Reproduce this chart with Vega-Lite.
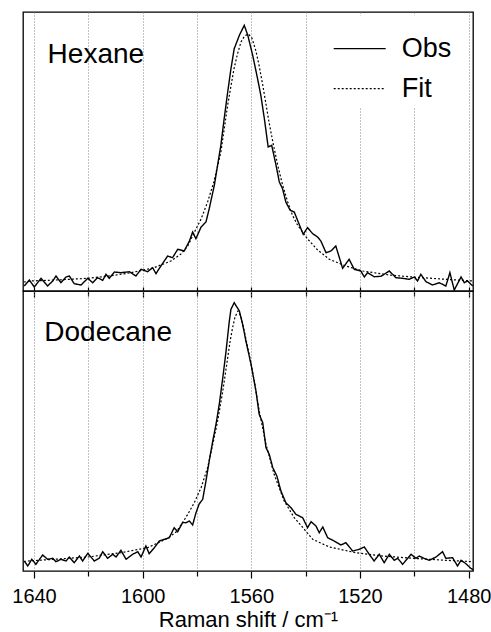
{
  "$schema": "https://vega.github.io/schema/vega-lite/v6.json",
  "padding": {"left": 11, "top": 11, "right": 0, "bottom": 0},
  "bounds": "flush",
  "spacing": 0,
  "datasets": {
    "hexObs": [
      {"shift": 1643.6, "intensity": 5}, {"shift": 1641.7, "intensity": 11}, {"shift": 1639.9, "intensity": 4}, {"shift": 1637.4, "intensity": 12.7},
      {"shift": 1635.0, "intensity": 5}, {"shift": 1633.1, "intensity": 10}, {"shift": 1631.9, "intensity": 15}, {"shift": 1630.1, "intensity": 8.3},
      {"shift": 1628.2, "intensity": 14}, {"shift": 1627.0, "intensity": 15}, {"shift": 1625.2, "intensity": 7.3}, {"shift": 1622.7, "intensity": 6},
      {"shift": 1620.2, "intensity": 12.7}, {"shift": 1618.4, "intensity": 8.3}, {"shift": 1616.6, "intensity": 13.3}, {"shift": 1614.7, "intensity": 10.7},
      {"shift": 1613.5, "intensity": 16.7}, {"shift": 1612.3, "intensity": 12.7}, {"shift": 1610.4, "intensity": 19}, {"shift": 1608.0, "intensity": 18.3},
      {"shift": 1604.9, "intensity": 19.3}, {"shift": 1602.5, "intensity": 15}, {"shift": 1600.6, "intensity": 21.7}, {"shift": 1598.2, "intensity": 19.3},
      {"shift": 1596.3, "intensity": 23.3}, {"shift": 1595.1, "intensity": 17.3}, {"shift": 1593.3, "intensity": 25}, {"shift": 1590.8, "intensity": 35},
      {"shift": 1589.0, "intensity": 33.3}, {"shift": 1587.1, "intensity": 41.7}, {"shift": 1584.7, "intensity": 40}, {"shift": 1582.8, "intensity": 50},
      {"shift": 1581.6, "intensity": 59}, {"shift": 1580.4, "intensity": 52.3}, {"shift": 1578.5, "intensity": 64}, {"shift": 1576.7, "intensity": 69},
      {"shift": 1575.5, "intensity": 82.3}, {"shift": 1573.6, "intensity": 106}, {"shift": 1572.4, "intensity": 126}, {"shift": 1571.2, "intensity": 146},
      {"shift": 1570.0, "intensity": 172.3}, {"shift": 1568.7, "intensity": 199}, {"shift": 1567.5, "intensity": 222.3}, {"shift": 1566.3, "intensity": 242.3},
      {"shift": 1564.4, "intensity": 255.7}, {"shift": 1562.6, "intensity": 265.7}, {"shift": 1561.3, "intensity": 255.7}, {"shift": 1559.5, "intensity": 235.7},
      {"shift": 1557.7, "intensity": 212.3}, {"shift": 1556.5, "intensity": 195.7}, {"shift": 1555.2, "intensity": 172.3}, {"shift": 1553.8, "intensity": 144},
      {"shift": 1552.5, "intensity": 145.7}, {"shift": 1550.9, "intensity": 125.7}, {"shift": 1549.7, "intensity": 109}, {"shift": 1548.5, "intensity": 102.3},
      {"shift": 1547.3, "intensity": 89}, {"shift": 1545.7, "intensity": 80.7}, {"shift": 1544.2, "intensity": 79}, {"shift": 1542.4, "intensity": 66.7},
      {"shift": 1540.9, "intensity": 56.7}, {"shift": 1539.3, "intensity": 63.3}, {"shift": 1537.4, "intensity": 57.3}, {"shift": 1535.6, "intensity": 54},
      {"shift": 1534.4, "intensity": 50}, {"shift": 1532.5, "intensity": 38.3}, {"shift": 1530.7, "intensity": 40}, {"shift": 1528.9, "intensity": 45},
      {"shift": 1526.4, "intensity": 22.7}, {"shift": 1524.0, "intensity": 31.7}, {"shift": 1522.1, "intensity": 21.7}, {"shift": 1519.7, "intensity": 20},
      {"shift": 1518.4, "intensity": 14}, {"shift": 1517.2, "intensity": 18.3}, {"shift": 1514.8, "intensity": 14.3}, {"shift": 1512.3, "intensity": 14.7},
      {"shift": 1509.2, "intensity": 20}, {"shift": 1506.8, "intensity": 13.3}, {"shift": 1504.3, "intensity": 12.7}, {"shift": 1501.9, "intensity": 11.7},
      {"shift": 1500.0, "intensity": 14}, {"shift": 1498.8, "intensity": 10}, {"shift": 1497.6, "intensity": 16.7}, {"shift": 1495.7, "intensity": 9.3},
      {"shift": 1493.3, "intensity": 6}, {"shift": 1490.8, "intensity": 8.3}, {"shift": 1488.4, "intensity": 5}, {"shift": 1486.9, "intensity": 18.3},
      {"shift": 1485.3, "intensity": 1}, {"shift": 1482.8, "intensity": 14}, {"shift": 1481.6, "intensity": 8.3}, {"shift": 1480.4, "intensity": 10},
      {"shift": 1478.5, "intensity": 5}
    ],
    "hexFit": [
      {"shift": 1643.7, "intensity": 9}, {"shift": 1641.1, "intensity": 10}, {"shift": 1630.1, "intensity": 11.2}, {"shift": 1620.2, "intensity": 12.7},
      {"shift": 1611.7, "intensity": 15.2}, {"shift": 1604.3, "intensity": 18.3}, {"shift": 1595.8, "intensity": 23.3}, {"shift": 1589.6, "intensity": 30},
      {"shift": 1585.9, "intensity": 37}, {"shift": 1583.4, "intensity": 45}, {"shift": 1581.1, "intensity": 58}, {"shift": 1578.5, "intensity": 72},
      {"shift": 1576.1, "intensity": 89}, {"shift": 1573.8, "intensity": 109}, {"shift": 1571.2, "intensity": 139}, {"shift": 1568.7, "intensity": 186},
      {"shift": 1567.5, "intensity": 205}, {"shift": 1566.4, "intensity": 222}, {"shift": 1565.1, "intensity": 237}, {"shift": 1563.8, "intensity": 249},
      {"shift": 1562.5, "intensity": 255}, {"shift": 1561.1, "intensity": 257}, {"shift": 1559.8, "intensity": 253}, {"shift": 1558.3, "intensity": 240},
      {"shift": 1557.1, "intensity": 225}, {"shift": 1555.8, "intensity": 206}, {"shift": 1553.5, "intensity": 169}, {"shift": 1552.0, "intensity": 148},
      {"shift": 1550.3, "intensity": 126}, {"shift": 1548.5, "intensity": 106}, {"shift": 1546.6, "intensity": 89}, {"shift": 1544.9, "intensity": 76},
      {"shift": 1543.0, "intensity": 66}, {"shift": 1539.3, "intensity": 52}, {"shift": 1535.6, "intensity": 41}, {"shift": 1531.3, "intensity": 31.7},
      {"shift": 1525.2, "intensity": 25}, {"shift": 1519.0, "intensity": 20}, {"shift": 1509.2, "intensity": 16}, {"shift": 1500.6, "intensity": 14},
      {"shift": 1488.4, "intensity": 11.7}, {"shift": 1478.5, "intensity": 10}
    ],
    "dodObs": [
      {"shift": 1643.6, "intensity": 10}, {"shift": 1642.3, "intensity": 5}, {"shift": 1640.8, "intensity": 11.7}, {"shift": 1639.3, "intensity": 6.7},
      {"shift": 1636.8, "intensity": 16}, {"shift": 1635.0, "intensity": 11.7}, {"shift": 1633.1, "intensity": 12.7}, {"shift": 1631.9, "intensity": 9.3},
      {"shift": 1630.1, "intensity": 11.7}, {"shift": 1628.2, "intensity": 10}, {"shift": 1627.0, "intensity": 14}, {"shift": 1625.2, "intensity": 8.3},
      {"shift": 1623.3, "intensity": 15}, {"shift": 1622.1, "intensity": 10}, {"shift": 1620.2, "intensity": 17.7}, {"shift": 1617.8, "intensity": 10},
      {"shift": 1616.0, "intensity": 12.7}, {"shift": 1614.7, "intensity": 19.3}, {"shift": 1612.9, "intensity": 12.7}, {"shift": 1611.0, "intensity": 16.7},
      {"shift": 1609.8, "intensity": 14}, {"shift": 1608.0, "intensity": 20.7}, {"shift": 1606.1, "intensity": 11.7}, {"shift": 1603.7, "intensity": 16.7},
      {"shift": 1601.8, "intensity": 19.3}, {"shift": 1600.6, "intensity": 14}, {"shift": 1598.8, "intensity": 25}, {"shift": 1597.6, "intensity": 17.3},
      {"shift": 1595.7, "intensity": 23.3}, {"shift": 1593.9, "intensity": 30}, {"shift": 1592.0, "intensity": 31.7}, {"shift": 1590.2, "intensity": 33.3},
      {"shift": 1588.4, "intensity": 43.3}, {"shift": 1587.1, "intensity": 39.3}, {"shift": 1585.3, "intensity": 48.5}, {"shift": 1584.1, "intensity": 48.3},
      {"shift": 1582.8, "intensity": 50}, {"shift": 1581.6, "intensity": 46}, {"shift": 1580.4, "intensity": 58}, {"shift": 1579.2, "intensity": 67},
      {"shift": 1577.9, "intensity": 71.7}, {"shift": 1576.7, "intensity": 90}, {"shift": 1575.5, "intensity": 110}, {"shift": 1574.2, "intensity": 130},
      {"shift": 1573.0, "intensity": 146.7}, {"shift": 1571.8, "intensity": 166.7}, {"shift": 1570.5, "intensity": 193.3}, {"shift": 1569.3, "intensity": 220},
      {"shift": 1568.1, "intensity": 250}, {"shift": 1567.5, "intensity": 261.7}, {"shift": 1566.3, "intensity": 268.3}, {"shift": 1564.4, "intensity": 260},
      {"shift": 1563.2, "intensity": 246.7}, {"shift": 1562.0, "intensity": 230}, {"shift": 1560.1, "intensity": 206.7}, {"shift": 1558.3, "intensity": 180},
      {"shift": 1557.1, "intensity": 156.7}, {"shift": 1555.8, "intensity": 148.3}, {"shift": 1554.6, "intensity": 123.3}, {"shift": 1553.4, "intensity": 116.7},
      {"shift": 1552.1, "intensity": 103.3}, {"shift": 1550.6, "intensity": 95}, {"shift": 1549.1, "intensity": 80}, {"shift": 1547.3, "intensity": 68.3},
      {"shift": 1545.4, "intensity": 63.3}, {"shift": 1543.6, "intensity": 56.7}, {"shift": 1541.1, "intensity": 53.3}, {"shift": 1539.3, "intensity": 43.3},
      {"shift": 1538.0, "intensity": 49.3}, {"shift": 1536.2, "intensity": 45}, {"shift": 1535.0, "intensity": 38.3}, {"shift": 1533.7, "intensity": 44},
      {"shift": 1531.9, "intensity": 33.3}, {"shift": 1529.5, "intensity": 30}, {"shift": 1527.0, "intensity": 26}, {"shift": 1525.2, "intensity": 28.3},
      {"shift": 1522.7, "intensity": 20}, {"shift": 1520.3, "intensity": 21.7}, {"shift": 1518.4, "intensity": 24}, {"shift": 1516.6, "intensity": 16.7},
      {"shift": 1514.8, "intensity": 10}, {"shift": 1512.9, "intensity": 16.7}, {"shift": 1511.1, "intensity": 8.3}, {"shift": 1509.2, "intensity": 16.7},
      {"shift": 1507.4, "intensity": 10.7}, {"shift": 1506.1, "intensity": 12.7}, {"shift": 1504.3, "intensity": 6.7}, {"shift": 1501.2, "intensity": 16.7},
      {"shift": 1499.4, "intensity": 12.7}, {"shift": 1498.2, "intensity": 15}, {"shift": 1496.4, "intensity": 12.7}, {"shift": 1494.5, "intensity": 10.7},
      {"shift": 1492.0, "intensity": 14}, {"shift": 1489.6, "intensity": 19.3}, {"shift": 1488.4, "intensity": 12.7}, {"shift": 1485.9, "intensity": 13.3},
      {"shift": 1484.1, "intensity": 5}, {"shift": 1482.8, "intensity": 10.7}, {"shift": 1481.0, "intensity": 7.3}, {"shift": 1479.2, "intensity": 2.7},
      {"shift": 1478.0, "intensity": 0.7}
    ],
    "dodFit": [
      {"shift": 1643.7, "intensity": 9.5}, {"shift": 1642.3, "intensity": 10}, {"shift": 1632.5, "intensity": 11.7}, {"shift": 1620.2, "intensity": 14},
      {"shift": 1608.0, "intensity": 18.3}, {"shift": 1598.2, "intensity": 23.3}, {"shift": 1590.8, "intensity": 32.7}, {"shift": 1587.7, "intensity": 39},
      {"shift": 1585.3, "intensity": 48.3}, {"shift": 1583.4, "intensity": 56.7}, {"shift": 1581.0, "intensity": 68.3}, {"shift": 1578.5, "intensity": 83.3},
      {"shift": 1576.1, "intensity": 103.3}, {"shift": 1574.2, "intensity": 126.7}, {"shift": 1572.4, "intensity": 150}, {"shift": 1570.5, "intensity": 180},
      {"shift": 1568.7, "intensity": 213.3}, {"shift": 1567.8, "intensity": 230}, {"shift": 1566.9, "intensity": 243.3}, {"shift": 1566.0, "intensity": 254},
      {"shift": 1564.9, "intensity": 260}, {"shift": 1563.8, "intensity": 254}, {"shift": 1562.6, "intensity": 240}, {"shift": 1560.8, "intensity": 216.7},
      {"shift": 1558.9, "intensity": 190}, {"shift": 1557.1, "intensity": 160}, {"shift": 1554.6, "intensity": 126.7}, {"shift": 1551.6, "intensity": 96.7},
      {"shift": 1547.9, "intensity": 70}, {"shift": 1544.2, "intensity": 53.3}, {"shift": 1540.5, "intensity": 41.7}, {"shift": 1537.4, "intensity": 31.7},
      {"shift": 1531.3, "intensity": 24}, {"shift": 1521.5, "intensity": 18.3}, {"shift": 1511.7, "intensity": 15}, {"shift": 1500.6, "intensity": 12.7},
      {"shift": 1488.4, "intensity": 10.7}, {"shift": 1478.0, "intensity": 9.3}
    ]
  },
  "vconcat": [
    {
      "width": 450,
      "height": 279,
      "encoding": {
        "x": {
          "type": "quantitative",
          "scale": {"domain": [1478.4, 1644.05], "reverse": true, "nice": false, "zero": false},
          "axis": {
            "values": [1640, 1620, 1600, 1580, 1560, 1540, 1520, 1500, 1480],
            "labels": false, "domain": false, "title": null, "offset": -4,
            "tickSize": {"condition": {"test": "datum.value % 40 === 0", "value": 10}, "value": 9},
            "tickWidth": 1.2, "tickColor": "black",
            "grid": true, "gridDash": [1, 2], "gridColor": "#777", "gridWidth": 0.9
          }
        },
        "y": {
          "type": "quantitative",
          "scale": {"domain": [0, 279], "nice": false, "zero": false},
          "axis": null
        }
      },
      "layer": [
        {
          "data": {"name": "hexObs"},
          "mark": {"type": "line", "color": "black", "strokeWidth": 1.4, "clip": true},
          "encoding": {
            "x": {"field": "shift"},
            "y": {"field": "intensity"},
            "strokeDash": {
              "datum": "Obs", "type": "nominal",
              "scale": {"domain": ["Obs", "Fit"], "range": [[1, 0], [2, 2]]},
              "legend": {
                "orient": "none", "legendX": 303.7, "legendY": 3.6, "title": null,
                "symbolType": "stroke", "symbolSize": 2704, "symbolStrokeWidth": 1.4,
                "symbolStrokeColor": "black", "labelFontSize": 27, "labelColor": "black",
                "labelOffset": 15, "rowPadding": -20, "fillColor": "white", "padding": 6
              }
            }
          }
        },
        {
          "data": {"name": "hexFit"},
          "mark": {"type": "line", "color": "black", "strokeWidth": 1.2, "clip": true},
          "encoding": {
            "x": {"field": "shift"},
            "y": {"field": "intensity"},
            "strokeDash": {"datum": "Fit", "type": "nominal"}
          }
        },
        {
          "data": {"values": [{"name": "Hexane"}]},
          "mark": {"type": "text", "align": "left", "baseline": "alphabetic", "fontSize": 28, "color": "black"},
          "encoding": {
            "x": {"datum": 1635.0},
            "y": {"datum": 228.3},
            "text": {"field": "name"}
          }
        }
      ]
    },
    {
      "width": 450,
      "height": 280,
      "encoding": {
        "x": {
          "type": "quantitative",
          "scale": {"domain": [1478.4, 1644.05], "reverse": true, "nice": false, "zero": false},
          "axis": {
            "values": [1640, 1620, 1600, 1580, 1560, 1540, 1520, 1500, 1480],
            "labelExpr": "datum.value % 40 === 0 ? datum.label : ''",
            "format": "d",
            "domain": false,
            "tickSize": {"condition": {"test": "datum.value % 40 === 0", "value": 7}, "value": 5},
            "tickWidth": 1.2, "tickColor": "black",
            "labelFontSize": 20, "labelColor": "black", "labelPadding": 8,
            "grid": true, "gridDash": [1, 2], "gridColor": "#777", "gridWidth": 0.9,
            "title": "Raman shift / cm⁻¹", "titleFontSize": 22, "titleFontWeight": "normal",
            "titleColor": "black", "titleY": 55, "titleBaseline": "alphabetic"
          }
        },
        "y": {
          "type": "quantitative",
          "scale": {"domain": [0, 280], "nice": false, "zero": false},
          "axis": null
        }
      },
      "layer": [
        {
          "data": {"name": "dodObs"},
          "mark": {"type": "line", "color": "black", "strokeWidth": 1.4, "clip": true},
          "encoding": {
            "x": {"field": "shift"},
            "y": {"field": "intensity"},
            "strokeDash": {
              "datum": "Obs", "type": "nominal",
              "scale": {"domain": ["Obs", "Fit"], "range": [[1, 0], [2, 2]]},
              "legend": null
            }
          }
        },
        {
          "data": {"name": "dodFit"},
          "mark": {"type": "line", "color": "black", "strokeWidth": 1.2, "clip": true},
          "encoding": {
            "x": {"field": "shift"},
            "y": {"field": "intensity"},
            "strokeDash": {"datum": "Fit", "type": "nominal", "legend": null}
          }
        },
        {
          "data": {"values": [{"name": "Dodecane"}]},
          "mark": {"type": "text", "align": "left", "baseline": "alphabetic", "fontSize": 28, "color": "black"},
          "encoding": {
            "x": {"datum": 1636.2},
            "y": {"datum": 230},
            "text": {"field": "name"}
          }
        }
      ]
    }
  ],
  "resolve": {
    "scale": {"x": "independent", "y": "independent", "strokeDash": "independent"},
    "legend": {"strokeDash": "independent"}
  },
  "config": {
    "font": "Liberation Sans",
    "view": {"stroke": "black", "strokeWidth": 1.3},
    "background": "white"
  }
}
